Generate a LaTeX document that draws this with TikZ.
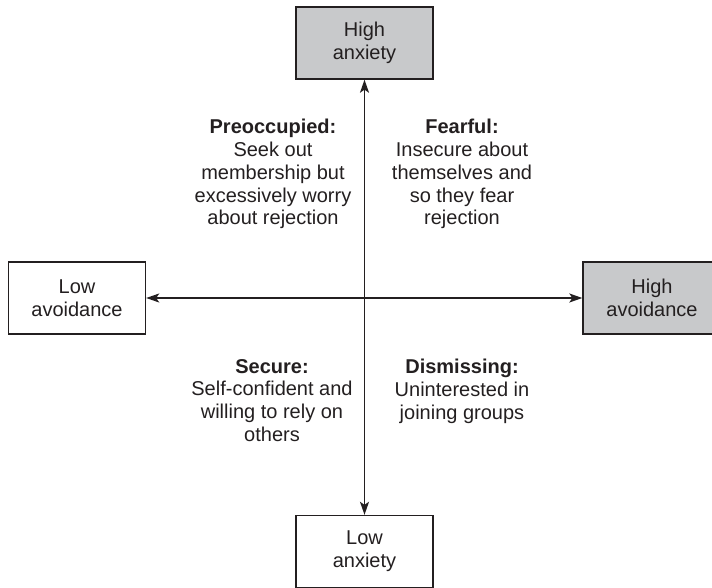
\documentclass[tikz,border=0pt]{standalone}
\usepackage{fontspec}
\setmainfont{Liberation Sans}
\usetikzlibrary{arrows.meta}
\definecolor{ink}{RGB}{35,31,32}
\definecolor{boxgray}{RGB}{200,201,203}
\begin{document}
\begin{tikzpicture}[x=1pt,y=-1pt,
  every node/.style={text=ink, font=\fontsize{20}{22.8}\selectfont},
  pole/.style={draw=ink, line width=1.4pt, align=center, inner sep=0pt,
    minimum width=137pt, minimum height=72pt},
  highpole/.style={pole, fill=boxgray},
  lowpole/.style={pole, fill=white},
  quadrant/.style={align=center, inner sep=0pt, anchor=north},
  axis/.style={draw=ink, line width=1.4pt,
    {Stealth[length=13pt,width=9pt,inset=3pt]}-{Stealth[length=13pt,width=9pt,inset=3pt]}}]
\useasboundingbox (0,0) rectangle (712,588);

% the four poles of the two dimensions
\node[highpole] (hiAnx) at (364.5,43) {High\\anxiety};
\node[lowpole]  (loAnx) at (364.5,551.5) {Low\\anxiety};
\node[lowpole]  (loAvo) at (77,298) {Low\\avoidance};
\node[highpole, minimum width=138pt] (hiAvo) at (652,298) {High\\avoidance};

% axes
\draw[axis] (hiAnx.south) -- (loAnx.north);
\draw[axis] (loAvo.east) -- (hiAvo.west);

% quadrant descriptions
\node[quadrant] (preocc) at (273,119)
  {\textbf{Preoccupied:}\\Seek out\\membership but\\excessively worry\\about rejection};
\node[quadrant] (fearful) at (462,119)
  {\textbf{Fearful:}\\Insecure about\\themselves and\\so they fear\\rejection};
\node[quadrant] (secure) at (272,359)
  {\textbf{Secure:}\\Self-confident and\\willing to rely on\\others};
\node[quadrant] (dismiss) at (462,359)
  {\textbf{Dismissing:}\\Uninterested in\\joining groups};
\end{tikzpicture}
\end{document}
